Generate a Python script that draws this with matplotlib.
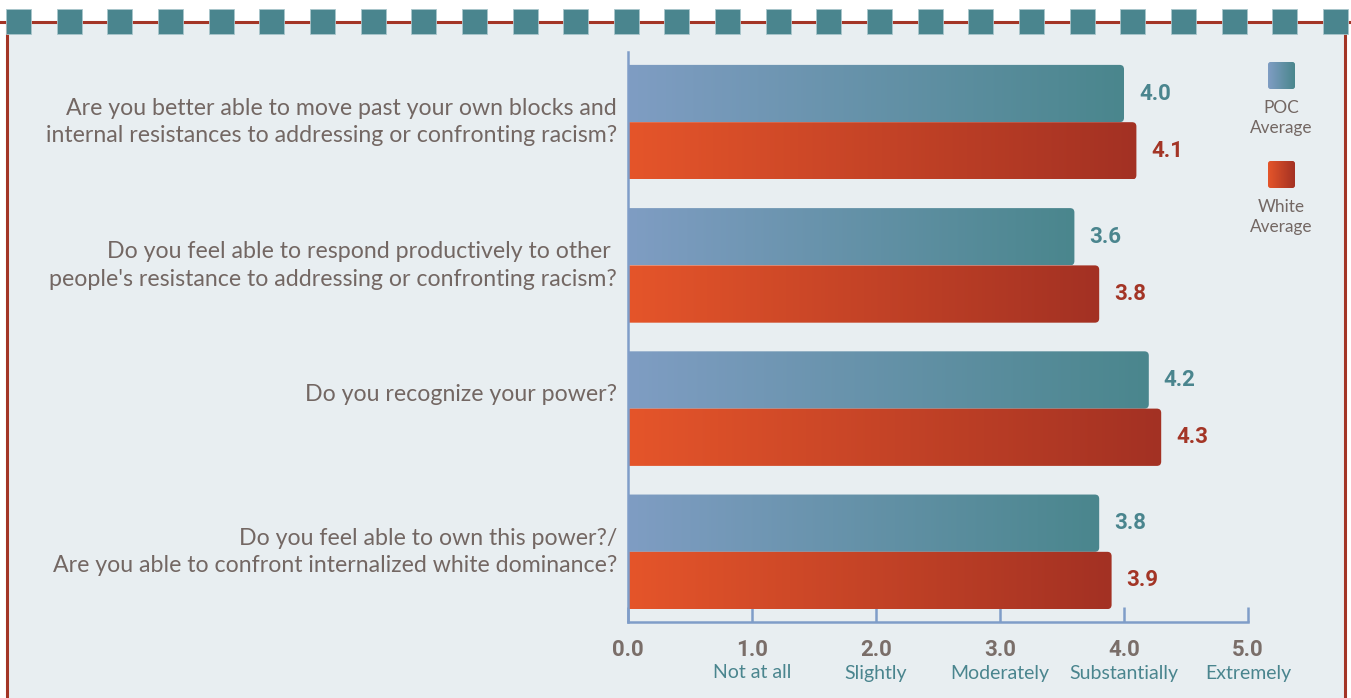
import numpy as np
import matplotlib
matplotlib.use("Agg")
import matplotlib.pyplot as plt
from matplotlib.patches import FancyBboxPatch, Rectangle
from matplotlib.colors import to_rgb
import matplotlib.transforms as mtransforms

# data
questions = [
    "Are you better able to move past your own blocks and\ninternal resistances to addressing or confronting racism?",
    "Do you feel able to respond productively to other \npeople's resistance to addressing or confronting racism?",
    "Do you recognize your power?\n",
    "Do you feel able to own this power?/\nAre you able to confront internalized white dominance?",
]
poc_avg = [4.0, 3.6, 4.2, 3.8]
white_avg = [4.1, 3.8, 4.3, 3.9]
tick_values = [0.0, 1.0, 2.0, 3.0, 4.0, 5.0]
tick_names = ["", "Not at all", "Slightly", "Moderately", "Substantially", "Extremely"]
series_names = ["POC\nAverage", "White\nAverage"]

# style
W, H = 1351, 698
BG = "#E8EEF1"
BORDER = "#A33526"
TEAL = "#4A858E"
POC_COLS = ("#7F9DC3", "#4A868D")
WHITE_COLS = ("#E5552A", "#A33123")
GREY = "#736763"
SPINE = "#7F9DC8"
FONT = "Lato"
NUMFONT = "Roboto"


def gradient_box(ax, x0, y0, w, h, cols, rounding, aspect, zorder=2, hide_left=False):
    n = 256
    c0, c1 = np.array(to_rgb(cols[0])), np.array(to_rgb(cols[1]))
    t = np.linspace(0, 1, n)[None, :, None]
    img = c0 + (c1 - c0) * t
    im = ax.imshow(img, extent=(x0, x0 + w, y0 + h, y0), aspect="auto",
                   interpolation="bilinear", zorder=zorder)
    ext = 2 * rounding if hide_left else 0
    clip = FancyBboxPatch((x0 - ext, y0), w + ext, h,
                          boxstyle=f"round,pad=0,rounding_size={rounding}",
                          mutation_aspect=aspect, transform=ax.transData,
                          facecolor="none", edgecolor="none")
    ax.add_patch(clip)
    im.set_clip_path(clip)
    return im


fig = plt.figure(figsize=(W / 100, H / 100), dpi=100)
fig.patch.set_facecolor("white")

# frame layer in pixel coordinates
back = fig.add_axes([0, 0, 1, 1], zorder=0)
back.set_xlim(0, W)
back.set_ylim(H, 0)
back.axis("off")
back.add_patch(Rectangle((7, 22), 1338, H, facecolor=BG, edgecolor="none"))
back.plot([7, 7], [22, H], color=BORDER, lw=2.2, solid_capstyle="butt")
back.plot([1345, 1345], [22, H], color=BORDER, lw=2.2, solid_capstyle="butt")
back.plot([0, W], [22, 22], color=BORDER, lw=2.2)
for k in range(27):
    back.add_patch(Rectangle((6 + k * 50.65, 8.5), 25, 25, facecolor=TEAL,
                             edgecolor="#A9C6CB", lw=0.6, zorder=3))

# legend
for k, (name, cols) in enumerate(zip(series_names, [POC_COLS, WHITE_COLS])):
    y0 = 62 + k * 99
    gradient_box(back, 1268, y0, 27, 27, cols, 2.5, 1.0, zorder=3)
    back.text(1281, y0 + 56, name, ha="center", va="center", color=GREY,
              fontsize=12.4, family=FONT, linespacing=1.35)
back.set_xlim(0, W)
back.set_ylim(H, 0)

# main axes
ax = fig.add_axes([628 / W, 1 - 622 / H, 620 / W, 570 / H], zorder=1)
ax.patch.set_alpha(0)
ax.set_xlim(0, 5)
ax.set_ylim(3.49, -0.49)

y = np.arange(len(questions))
bh = 0.4
b1 = ax.barh(y - bh / 2, poc_avg, height=bh, visible=False)
b2 = ax.barh(y + bh / 2, white_avg, height=bh, visible=False)

# rounding aspect (data units per pixel, y vs x)
asp = (3.98 / 570) / (5 / 620)
for bars, cols, vals, tcol in [(b1, POC_COLS, poc_avg, TEAL),
                               (b2, WHITE_COLS, white_avg, BORDER)]:
    for rect, v in zip(bars, vals):
        x0, yy, w, h = rect.get_x(), rect.get_y(), rect.get_width(), rect.get_height()
        gradient_box(ax, x0, yy, w, h, cols, 0.035, asp, hide_left=True)
        ax.text(v + 0.12, yy + h / 2, f"{v:.1f}", ha="left", va="center",
                color=tcol, fontsize=16, fontweight="bold", family=NUMFONT,
                clip_on=False)

ax.set_xlim(0, 5)
ax.set_ylim(3.49, -0.49)

for s in ["top", "right"]:
    ax.spines[s].set_visible(False)
for s in ["left", "bottom"]:
    ax.spines[s].set_color(SPINE)
    ax.spines[s].set_linewidth(1.8)

ax.set_yticks([])
ax.set_xticks(tick_values)
ax.set_xticklabels([f"{v:.1f}" for v in tick_values], fontsize=16,
                   fontweight="bold", color="#7A6E69", family=NUMFONT)
ax.tick_params(axis="x", direction="in", length=10.5, width=1.8, color=SPINE, pad=12)

trans = mtransforms.blended_transform_factory(ax.transData, fig.transFigure)
for v, name in zip(tick_values, tick_names):
    if name:
        ax.text(v, 1 - 673 / H, name, transform=trans, ha="center", va="center",
                color=TEAL, fontsize=14, family=FONT)

# question labels
trans_q = mtransforms.blended_transform_factory(fig.transFigure, ax.transData)
for i, q in enumerate(questions):
    ax.text(617 / W, i, q, transform=trans_q, ha="right", va="center",
            color=GREY, fontsize=16.7, family=FONT, linespacing=1.38)

fig.savefig("out.png", dpi=100, facecolor=fig.get_facecolor())
